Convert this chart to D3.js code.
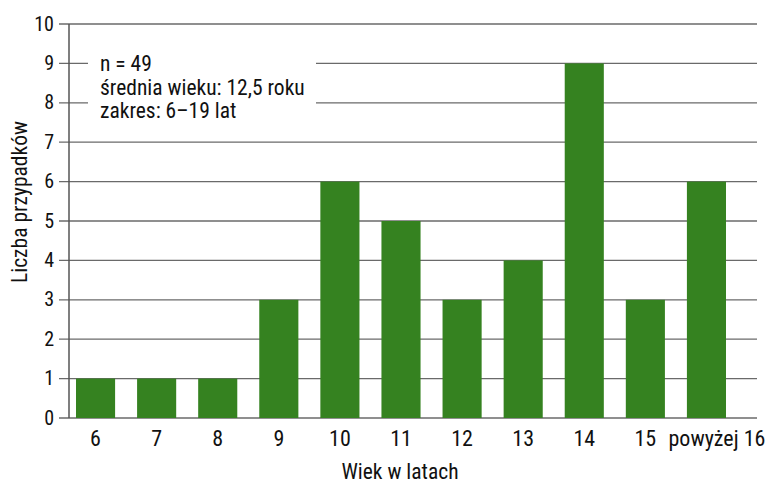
<!DOCTYPE html>
<html>
<head>
<meta charset="utf-8">
<script src="https://cdn.jsdelivr.net/npm/d3@7"></script>
<style>
  body { margin: 0; background: #fff; }
  text { font-family: "Roboto Condensed", "Liberation Sans Narrow", "DejaVu Sans Condensed", Roboto, sans-serif; fill: #111; }
</style>
</head>
<body>
<svg id="chart" width="766" height="486"></svg>
<script>
const categories = ['6', '7', '8', '9', '10', '11', '12', '13', '14', '15', 'powyżej 16'];
const counts = [1, 1, 1, 3, 6, 5, 3, 4, 9, 3, 6];
const yTicks = [0, 1, 2, 3, 4, 5, 6, 7, 8, 9, 10];
const noteLines = ['n = 49', 'średnia wieku: 12,5 roku', 'zakres: 6–19 lat'];

const svg = d3.select('#chart');
const axisLeft = 69, axisRight = 757, plotTop = 24, plotBottom = 418;

const x = d3.scaleBand()
  .domain(categories)
  .range([76, 726])
  .paddingInner(0.36)
  .paddingOuter(0);

const y = d3.scaleLinear().domain([0, 10]).range([plotBottom, plotTop]);

// gridlines
svg.append('g')
  .selectAll('line')
  .data(yTicks)
  .join('line')
    .attr('x1', axisLeft - 10)
    .attr('x2', axisRight)
    .attr('y1', d => y(d))
    .attr('y2', d => y(d))
    .attr('stroke', '#6a6a6a')
    .attr('stroke-width', 1.3);

// y tick labels
svg.append('g')
  .selectAll('text')
  .data(yTicks)
  .join('text')
    .attr('x', 54)
    .attr('y', d => y(d) + 6.5)
    .attr('text-anchor', 'end')
    .attr('font-size', 20)
    .text(d => d);

// note box
const note = svg.append('g');
note.append('rect')
  .attr('x', 88).attr('y', 45)
  .attr('width', 228).attr('height', 85)
  .attr('fill', '#fff');
note.selectAll('text')
  .data(noteLines)
  .join('text')
    .attr('x', 100)
    .attr('y', (d, i) => 71 + i * 23.5)
    .attr('font-size', 21.5)
    .text(d => d);

// bars
svg.append('g')
  .selectAll('rect')
  .data(counts)
  .join('rect')
    .attr('x', (d, i) => x(categories[i]))
    .attr('y', d => y(d))
    .attr('width', x.bandwidth())
    .attr('height', d => plotBottom - y(d))
    .attr('fill', '#358220');

// y axis line
svg.append('line')
  .attr('x1', axisLeft).attr('x2', axisLeft)
  .attr('y1', plotTop).attr('y2', plotBottom)
  .attr('stroke', '#555')
  .attr('stroke-width', 1.5);

// x tick labels (the long last one is pushed right, as in the original)
const lastCat = categories[categories.length - 1];
svg.append('g')
  .selectAll('text')
  .data(categories)
  .join('text')
    .attr('x', d => x(d) + x.bandwidth() / 2 + (d === lastCat ? 10.5 : 0))
    .attr('y', 446)
    .attr('text-anchor', 'middle')
    .attr('font-size', 22)
    .text(d => d);

// axis titles
svg.append('text')
  .attr('x', 400).attr('y', 479)
  .attr('text-anchor', 'middle')
  .attr('font-size', 21.5)
  .text('Wiek w latach');

svg.append('text')
  .attr('transform', 'translate(27,202) rotate(-90)')
  .attr('text-anchor', 'middle')
  .attr('font-size', 21.5)
  .text('Liczba przypadków');
</script>
</body>
</html>
